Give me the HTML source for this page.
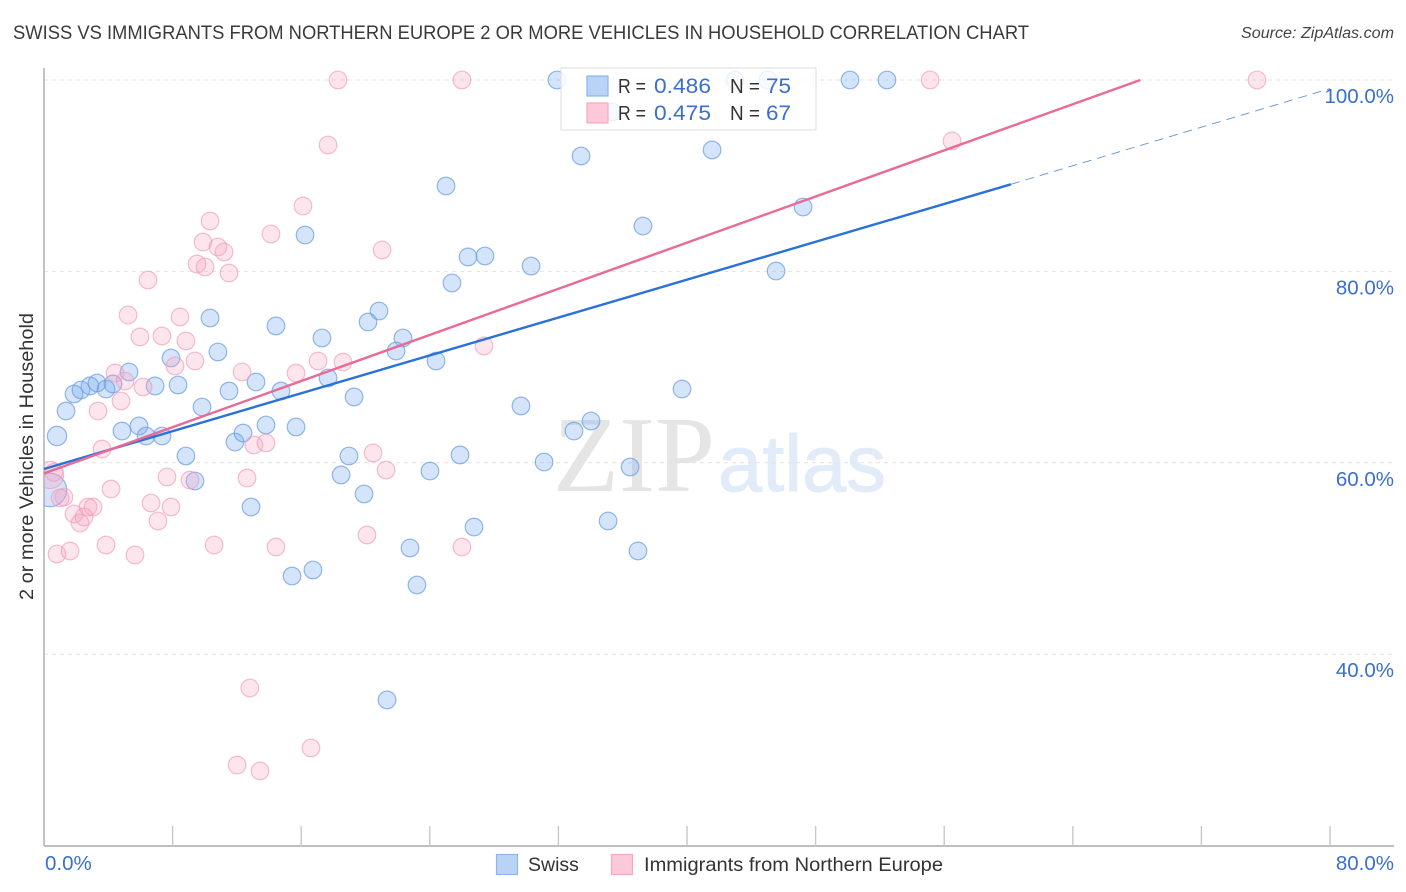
<!DOCTYPE html>
<html lang="en">
<head>
<meta charset="utf-8">
<title>Swiss vs Immigrants from Northern Europe correlation chart</title>
<style>
  html, body { margin: 0; padding: 0; background: #fff; }
  body { width: 1406px; height: 892px; overflow: hidden; }
  svg { display: block; font-family: "Liberation Sans", sans-serif; }
</style>
</head>
<body>
<svg id="chart" xmlns="http://www.w3.org/2000/svg" width="1406" height="892" viewBox="0 0 1406 892">
  <defs>
    <clipPath id="plot-clip"><rect x="44" y="60" width="1350" height="786"/></clipPath>
  </defs>
  <rect x="0" y="0" width="1406" height="892" fill="#ffffff"/>
  <text x="13" y="39" font-size="19" fill="#3a3a3a" textLength="1016" lengthAdjust="spacingAndGlyphs">SWISS VS IMMIGRANTS FROM NORTHERN EUROPE 2 OR MORE VEHICLES IN HOUSEHOLD CORRELATION CHART</text>
  <text x="1394" y="38" font-size="15.5" font-style="italic" fill="#444444" text-anchor="end" textLength="153" lengthAdjust="spacingAndGlyphs">Source: ZipAtlas.com</text>
  <text x="553" y="491" font-size="108" font-family="'Liberation Serif', serif" fill="#e5e5e5" textLength="162" lengthAdjust="spacingAndGlyphs">ZIP</text>
  <text x="718" y="491" font-size="80" fill="#e2ebf8" stroke="#e2ebf8" stroke-width="1" textLength="168" lengthAdjust="spacingAndGlyphs">atlas</text>
  <g id="grid"></g>
  <g id="axes"></g>
  <g id="points" clip-path="url(#plot-clip)"></g>
  <g id="trends"></g>
  <g id="ticklabels"></g>
  <text transform="translate(33,600) rotate(-90)" font-size="19.5" fill="#333333" textLength="287" lengthAdjust="spacingAndGlyphs">2 or more Vehicles in Household</text>

  <g>
    <rect x="561" y="68" width="255" height="62" fill="#ffffff" fill-opacity="0.82" stroke="#dddddd" stroke-width="1"/>
    <rect x="587" y="76" width="21" height="20" fill="#b9d3f7" stroke="#8fb4e8" stroke-width="1.2"/>
    <rect x="587" y="103" width="21" height="20" fill="#fcc9da" stroke="#f3a9c2" stroke-width="1.2"/>
    <g font-size="20">
      <text x="618" y="93" fill="#333333" textLength="28" lengthAdjust="spacingAndGlyphs">R =</text>
      <text x="654" y="93" fill="#3a6fd0" font-size="21.5" textLength="57" lengthAdjust="spacingAndGlyphs">0.486</text>
      <text x="730" y="93" fill="#333333" textLength="30" lengthAdjust="spacingAndGlyphs">N =</text>
      <text x="766" y="93" fill="#3a6fd0" font-size="21.5" textLength="25" lengthAdjust="spacingAndGlyphs">75</text>
      <text x="618" y="120" fill="#333333" textLength="28" lengthAdjust="spacingAndGlyphs">R =</text>
      <text x="654" y="120" fill="#3a6fd0" font-size="21.5" textLength="57" lengthAdjust="spacingAndGlyphs">0.475</text>
      <text x="730" y="120" fill="#333333" textLength="30" lengthAdjust="spacingAndGlyphs">N =</text>
      <text x="766" y="120" fill="#3a6fd0" font-size="21.5" textLength="25" lengthAdjust="spacingAndGlyphs">67</text>
    </g>
  </g>

  <g>
    <rect x="496.5" y="854.5" width="21" height="20" fill="#b9d3f7" stroke="#8fb4e8" stroke-width="1.2"/>
    <text x="528" y="871" font-size="19.5" fill="#333333">Swiss</text>
    <rect x="611.5" y="854.5" width="21" height="20" fill="#fcc9da" stroke="#f3a9c2" stroke-width="1.2"/>
    <text x="644" y="871" font-size="19.5" fill="#333333" textLength="299" lengthAdjust="spacingAndGlyphs">Immigrants from Northern Europe</text>
  </g>
</svg>
<script>
const xTickValues = [0, 8, 16, 24, 32, 40, 48, 56, 64, 72, 80];
const yTickValues = [100, 80, 60, 40];
const yTickLabels = ["100.0%", "80.0%", "60.0%", "40.0%"];
const xEndLabels = ["0.0%", "80.0%"];

const swissX = [31.91,42.99,45.04,50.14,52.44,33.41,41.56,25.01,37.26,47.22,16.24,26.38,27.43,30.30,45.54,25.38,20.84,20.16,10.33,14.43,17.29,22.33,21.90,10.82,7.90,24.39,5.29,1.87,2.30,2.86,3.30,3.86,4.29,6.91,8.34,1.37,11.51,13.19,14.74,17.67,19.29,39.69,9.83,29.67,34.03,32.97,4.85,5.91,6.35,7.34,11.88,12.38,13.81,15.68,8.83,18.97,25.88,31.11,36.46,18.48,24.01,9.39,19.91,12.88,26.75,35.09,36.95,22.77,16.73,15.43,23.20,21.34,35.33];
const swissY = [100,100,100,100,100,92.06,92.69,88.92,84.74,86.73,83.80,81.51,81.61,80.56,80.04,78.79,75.86,74.71,75.13,74.30,73.04,73.04,71.68,71.58,70.95,70.64,69.49,67.19,67.61,68.03,68.34,67.71,68.24,68.03,68.13,65.41,67.50,68.44,67.50,68.86,66.88,67.71,65.83,65.94,64.37,63.32,63.32,63.85,62.80,62.80,62.17,63.11,63.95,63.74,60.71,60.71,60.82,60.08,59.56,58.73,59.14,58.10,56.74,55.38,53.29,53.92,50.79,51.10,48.80,48.17,47.23,35.22,96.66];
const swissAggregateX = [0.37, 0.81];
const swissAggregateY = [57.16, 62.80];
const swissAggregateWeight = [3.6, 1.2];

const immigrantsX = [18.29,26.00,55.12,75.46,17.67,56.49,16.11,10.33,14.12,9.89,10.82,11.20,21.03,9.52,10.02,11.51,6.47,5.23,8.46,5.97,7.34,8.83,9.39,8.15,17.05,18.60,27.37,4.42,5.04,6.16,12.32,15.68,4.79,3.36,3.61,13.06,13.81,20.47,21.28,12.63,7.65,9.08,4.17,1.24,1.00,6.66,7.90,2.74,3.05,1.87,2.49,2.24,7.09,20.09,3.86,5.66,10.58,14.43,26.00,0.81,1.62,12.81,12.01,13.44,16.61,0.62];
const immigrantsY = [100,100,100,100,93.21,93.63,86.83,85.27,83.91,83.07,82.55,82.03,82.24,80.77,80.46,79.83,79.10,75.44,75.24,73.15,73.25,72.73,70.64,70.12,70.64,70.53,72.21,69.38,68.55,67.92,69.49,69.38,66.46,65.41,61.44,61.86,62.07,61.03,59.25,58.41,58.52,58.20,57.26,56.43,56.32,55.80,55.38,55.38,55.38,54.65,54.34,53.71,53.92,52.46,51.41,50.37,51.41,51.20,51.20,50.47,50.78,36.47,28.42,27.80,30.20,59.00];
const immigrantsAggregateX = [0.37];
const immigrantsAggregateY = [58.73];
const immigrantsAggregateWeight = [2.4];

const swissTrendX = [0, 60.15];
const swissTrendY = [59.35, 89.10];
const swissProjectionX = [60.15, 80];
const swissProjectionY = [89.10, 99.10];
const immigrantsTrendX = [0, 68.2];
const immigrantsTrendY = [58.9, 100];

const NS = "http://www.w3.org/2000/svg";
function xAxis(v) { return 44 + v * 16.075; }
function yAxis(v) { return 80 + (100 - v) * 9.57; }
function node(tag, attrs, parent) {
  const el = document.createElementNS(NS, tag);
  for (const k in attrs) el.setAttribute(k, attrs[k]);
  parent.appendChild(el);
  return el;
}

const grid = document.getElementById("grid");
yTickValues.forEach(function (v) {
  const el = node("line", { x1: 44, x2: 1394, y1: yAxis(v), y2: yAxis(v), stroke: "#e2e2e2", "stroke-width": 1, "stroke-dasharray": "4 4" }, grid);
  
  
});

const axes = document.getElementById("axes");
const yLine = node("line", { x1: 44, x2: 44, y1: 68, y2: 846, stroke: "#aaaaaa", "stroke-width": 1.4 }, axes);


const xLine = node("line", { x1: 44, x2: 1394, y1: 846, y2: 846, stroke: "#aaaaaa", "stroke-width": 1.4 }, axes);


xTickValues.slice(1).forEach(function (v) {
  const el = node("line", { x1: xAxis(v), x2: xAxis(v), y1: 826, y2: 846, stroke: "#c8c8c8", "stroke-width": 1.4 }, axes);
  
  
});

const labels = document.getElementById("ticklabels");
yTickValues.forEach(function (v, i) {
  const el = node("text", { x: 1394, y: yAxis(v) + 23, "text-anchor": "end", "font-size": 20.5, fill: "#3a6fd0" }, labels);
  el.textContent = yTickLabels[i];
  
  
});
const xStart = node("text", { x: 45, y: 870, "font-size": 20.5, fill: "#3a6fd0" }, labels);
xStart.textContent = xEndLabels[0];


const xEnd = node("text", { x: 1394, y: 870, "text-anchor": "end", "font-size": 20.5, fill: "#3a6fd0" }, labels);
xEnd.textContent = xEndLabels[1];



const pointsGroup = document.getElementById("points");
function drawSwissPoint(x, y, w) {
  const c = node("circle", { cx: xAxis(x), cy: yAxis(y), r: 8.8 * Math.sqrt(w), fill: "#6fa5ee", "fill-opacity": 0.3, stroke: "#6f9fe0", "stroke-opacity": 0.75, "stroke-width": 1.2 }, pointsGroup);
  
  
}
function drawImmigrantsPoint(x, y, w) {
  const c = node("circle", { cx: xAxis(x), cy: yAxis(y), r: 8.8 * Math.sqrt(w), fill: "#f7a3bf", "fill-opacity": 0.28, stroke: "#ee9ab8", "stroke-opacity": 0.65, "stroke-width": 1.2 }, pointsGroup);
  
  
}
swissX.forEach(function (x, i) { drawSwissPoint(x, swissY[i], 1); });
swissAggregateX.forEach(function (x, i) { drawSwissPoint(x, swissAggregateY[i], swissAggregateWeight[i]); });
immigrantsX.forEach(function (x, i) { drawImmigrantsPoint(x, immigrantsY[i], 1); });
immigrantsAggregateX.forEach(function (x, i) { drawImmigrantsPoint(x, immigrantsAggregateY[i], immigrantsAggregateWeight[i]); });

const trends = document.getElementById("trends");
const swissLine = node("line", { x1: xAxis(swissTrendX[0]), y1: yAxis(swissTrendY[0]), x2: xAxis(swissTrendX[1]), y2: yAxis(swissTrendY[1]), stroke: "#2a72d8", "stroke-width": 2.4 }, trends);


const swissDash = node("line", { x1: xAxis(swissProjectionX[0]), y1: yAxis(swissProjectionY[0]), x2: xAxis(swissProjectionX[1]), y2: yAxis(swissProjectionY[1]), stroke: "#4a7fd0", "stroke-width": 0.9, "stroke-opacity": 0.85, "stroke-dasharray": "9 6" }, trends);


const immigrantsLine = node("line", { x1: xAxis(immigrantsTrendX[0]), y1: yAxis(immigrantsTrendY[0]), x2: xAxis(immigrantsTrendX[1]), y2: yAxis(immigrantsTrendY[1]), stroke: "#e96a96", "stroke-width": 2.4 }, trends);


</script>
</body>
</html>
